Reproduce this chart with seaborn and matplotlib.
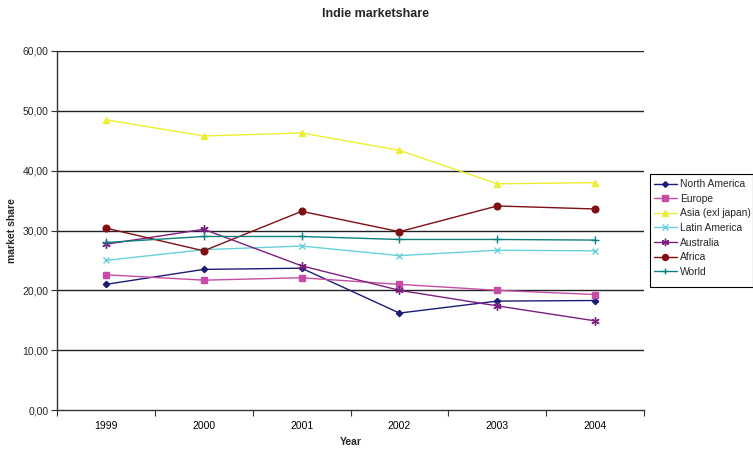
import matplotlib
matplotlib.use("Agg")
import matplotlib.pyplot as plt
from matplotlib.ticker import FuncFormatter, FixedLocator
from matplotlib.patches import Rectangle
import seaborn as sns
import pandas as pd

years = ["1999", "2000", "2001", "2002", "2003", "2004"]
north_america = [21.0, 23.5, 23.7, 16.2, 18.2, 18.3]
europe = [22.6, 21.7, 22.1, 21.0, 20.0, 19.3]
asia = [48.5, 45.8, 46.3, 43.4, 37.8, 38.0]
latin_america = [25.0, 26.8, 27.4, 25.8, 26.7, 26.6]
australia = [27.7, 30.2, 24.1, 20.0, 17.4, 14.9]
africa = [30.4, 26.6, 33.2, 29.8, 34.1, 33.6]
world = [28.0, 29.0, 29.0, 28.5, 28.5, 28.4]

series = {
    "North America": north_america,
    "Europe": europe,
    "Asia (exl japan)": asia,
    "Latin America": latin_america,
    "Australia": australia,
    "Africa": africa,
    "World": world,
}
colors = {
    "North America": "#1c1c78",
    "Europe": "#c64ca6",
    "Asia (exl japan)": "#eeee30",
    "Latin America": "#66d0dc",
    "Australia": "#7d1f80",
    "Africa": "#800f14",
    "World": "#0f8080",
}
markers = {
    "North America": "D",
    "Europe": "s",
    "Asia (exl japan)": "^",
    "Latin America": "x",
    "Australia": (6, 2, 0),
    "Africa": "o",
    "World": "+",
}
sizes = {
    "North America": 3.2,
    "Europe": 4.2,
    "Asia (exl japan)": 5.0,
    "Latin America": 5.0,
    "Australia": 6.0,
    "Africa": 4.8,
    "World": 5.5,
}

rows = []
for name, vals in series.items():
    for i, v in enumerate(vals):
        rows.append({"idx": i, "Year": years[i], "value": v, "Region": name})
df = pd.DataFrame(rows)

sns.set_theme(style="white")
plt.rcParams["font.family"] = ["Liberation Sans", "DejaVu Sans"]

fig = plt.figure(figsize=(7.53, 4.49), dpi=100)
ax = fig.add_axes([57 / 753, 1 - 410 / 449, (644 - 57) / 753, (410 - 51) / 449])

for name in series:
    sub = df[df["Region"] == name]
    sns.lineplot(data=sub, x="idx", y="value", ax=ax, color=colors[name],
                 marker=markers[name], markersize=sizes[name],
                 markeredgecolor=colors[name], markerfacecolor=colors[name],
                 markeredgewidth=1.0, linewidth=1.0, label=name)

ax.set_xlim(-0.5, 5.5)
ax.set_ylim(0, 60)
ax.set_yticks([0, 10, 20, 30, 40, 50, 60])
ax.yaxis.set_major_formatter(FuncFormatter(lambda v, p: f"{v:.2f}".replace(".", ",")))
ax.set_xticks(range(len(years)))
ax.set_xticklabels(years)
ax.xaxis.set_minor_locator(FixedLocator([i - 0.5 for i in range(len(years) + 1)]))
ax.tick_params(axis="x", which="major", length=0, pad=8, labelsize=7.5, colors="black")
ax.tick_params(axis="x", which="minor", length=4, width=0.8, color="#333333", direction="out", bottom=True)
ax.tick_params(axis="y", which="major", length=4, width=0.8, color="#333333", direction="out", left=True, labelsize=7.5, pad=2)

ax.grid(False)
for y in [10, 20, 30, 40, 50, 60]:
    ax.axhline(y, color="#222222", linewidth=1.0, zorder=0)

for s in ["top", "right"]:
    ax.spines[s].set_visible(False)
for s in ["left", "bottom"]:
    ax.spines[s].set_color("#333333")
    ax.spines[s].set_linewidth(1.0)

ax.set_xlabel("Year", fontsize=7.5, fontweight="bold", labelpad=4)
ax.set_ylabel("market share", fontsize=7.5, fontweight="bold", labelpad=4)
fig.text(376 / 753, 1 - 14 / 449, "Indie marketshare", ha="center", va="center",
         fontsize=9, fontweight="bold")

leg = ax.legend(loc="upper left", bbox_to_anchor=(650 / 753, 1 - 175 / 449),
                bbox_transform=fig.transFigure, frameon=False, fontsize=7.4,
                handlelength=2.2, handletextpad=0.3, labelspacing=0.45,
                borderpad=0.4, borderaxespad=0, markerscale=0.9)

fig.patches.append(Rectangle((650 / 753, 1 - 287 / 449), (752.5 - 650) / 753, (287 - 174) / 449,
                             transform=fig.transFigure, fill=False, edgecolor="black",
                             linewidth=0.8, zorder=5))

fig.savefig("out.png", dpi=100)
